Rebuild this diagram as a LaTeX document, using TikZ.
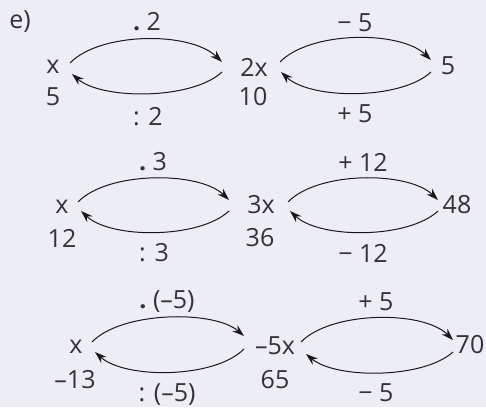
\documentclass[tikz,border=0pt]{standalone}
\usepackage{fontspec}
\setmainfont{Open Sans}
\usetikzlibrary{arrows.meta}
\definecolor{bg}{RGB}{237,237,245}
\definecolor{txt}{RGB}{50,50,55}
\newcommand{\mdot}{\textbf{.}\ }
\tikzset{
  lbl/.style={inner sep=0pt, text=txt, font=\fontsize{25}{30}\selectfont},
  arc/.style={draw=black!90, line width=1pt, -{Stealth[length=12pt,width=8pt]}}
}
\begin{document}
\begin{tikzpicture}[x=1pt,y=-1pt]
\fill[bg] (0,0) rectangle (486,407);
\useasboundingbox (0,0) rectangle (486,407);
% Row 1
\node[lbl] (e) at (20,22) {e)};
\node[lbl] (x1) at (53,67) {x};
\node[lbl] (v1) at (53,97) {5};
\node[lbl] (m1) at (147,22) {\mdot 2};
\node[lbl] (d1) at (148,117) {: 2};
\node[lbl] (y1) at (254,67) {2x};
\node[lbl] (w1) at (253,97) {10};
\node[lbl] (s1) at (355,23) {− 5};
\node[lbl] (p1) at (355,114) {+ 5};
\node[lbl] (z1) at (448,66) {5};
\coordinate (a1) at (70,63);  \coordinate (b1) at (222,62);
\coordinate (c1) at (222,72); \coordinate (f1) at (72,74);
\coordinate (g1) at (280,62); \coordinate (h1) at (431,60);
\coordinate (i1) at (431,72); \coordinate (j1) at (281,72);
\draw[arc] (a1) .. controls (100,32) and (190,31) .. (b1);
\draw[arc] (c1) .. controls (192,100) and (102,100) .. (f1);
\draw[arc] (g1) .. controls (310,31) and (400,30) .. (h1);
\draw[arc] (i1) .. controls (401,100) and (311,100) .. (j1);
% Row 2
\node[lbl] (x2) at (62,207) {x};
\node[lbl] (v2) at (62,238) {12};
\node[lbl] (m2) at (153,162) {\mdot 3};
\node[lbl] (d2) at (154,253) {: 3};
\node[lbl] (y2) at (261,205) {3x};
\node[lbl] (w2) at (260,238) {36};
\node[lbl] (s2) at (363,162) {+ 12};
\node[lbl] (p2) at (363,253) {− 12};
\node[lbl] (z2) at (457,205) {48};
\coordinate (a2) at (78,202);  \coordinate (b2) at (229,200);
\coordinate (c2) at (229,211); \coordinate (f2) at (81,211);
\coordinate (g2) at (288,202); \coordinate (h2) at (438,200);
\coordinate (i2) at (438,211); \coordinate (j2) at (290,211);
\draw[arc] (a2) .. controls (108,171) and (199,171) .. (b2);
\draw[arc] (c2) .. controls (199,239) and (111,239) .. (f2);
\draw[arc] (g2) .. controls (318,171) and (408,171) .. (h2);
\draw[arc] (i2) .. controls (408,239) and (320,239) .. (j2);
% Row 3
\node[lbl] (x3) at (76,347) {x};
\node[lbl] (v3) at (75,380) {–13};
\node[lbl] (m3) at (167,302) {\mdot (–5)};
\node[lbl] (d3) at (167,395) {: (–5)};
\node[lbl] (y3) at (275,346) {–5x};
\node[lbl] (w3) at (275,380) {65};
\node[lbl] (s3) at (376,302) {+ 5};
\node[lbl] (p3) at (376,393) {− 5};
\node[lbl] (z3) at (470,345) {70};
\coordinate (a3) at (92,342);  \coordinate (b3) at (244,336);
\coordinate (c3) at (244,349); \coordinate (f3) at (95,352);
\coordinate (g3) at (301,342); \coordinate (h3) at (453,340);
\coordinate (i3) at (453,352); \coordinate (j3) at (306,354);
\draw[arc] (a3) .. controls (122,311) and (214,310) .. (b3);
\draw[arc] (c3) .. controls (214,379) and (125,379) .. (f3);
\draw[arc] (g3) .. controls (331,311) and (423,310) .. (h3);
\draw[arc] (i3) .. controls (423,379) and (336,379) .. (j3);
\end{tikzpicture}
\end{document}
